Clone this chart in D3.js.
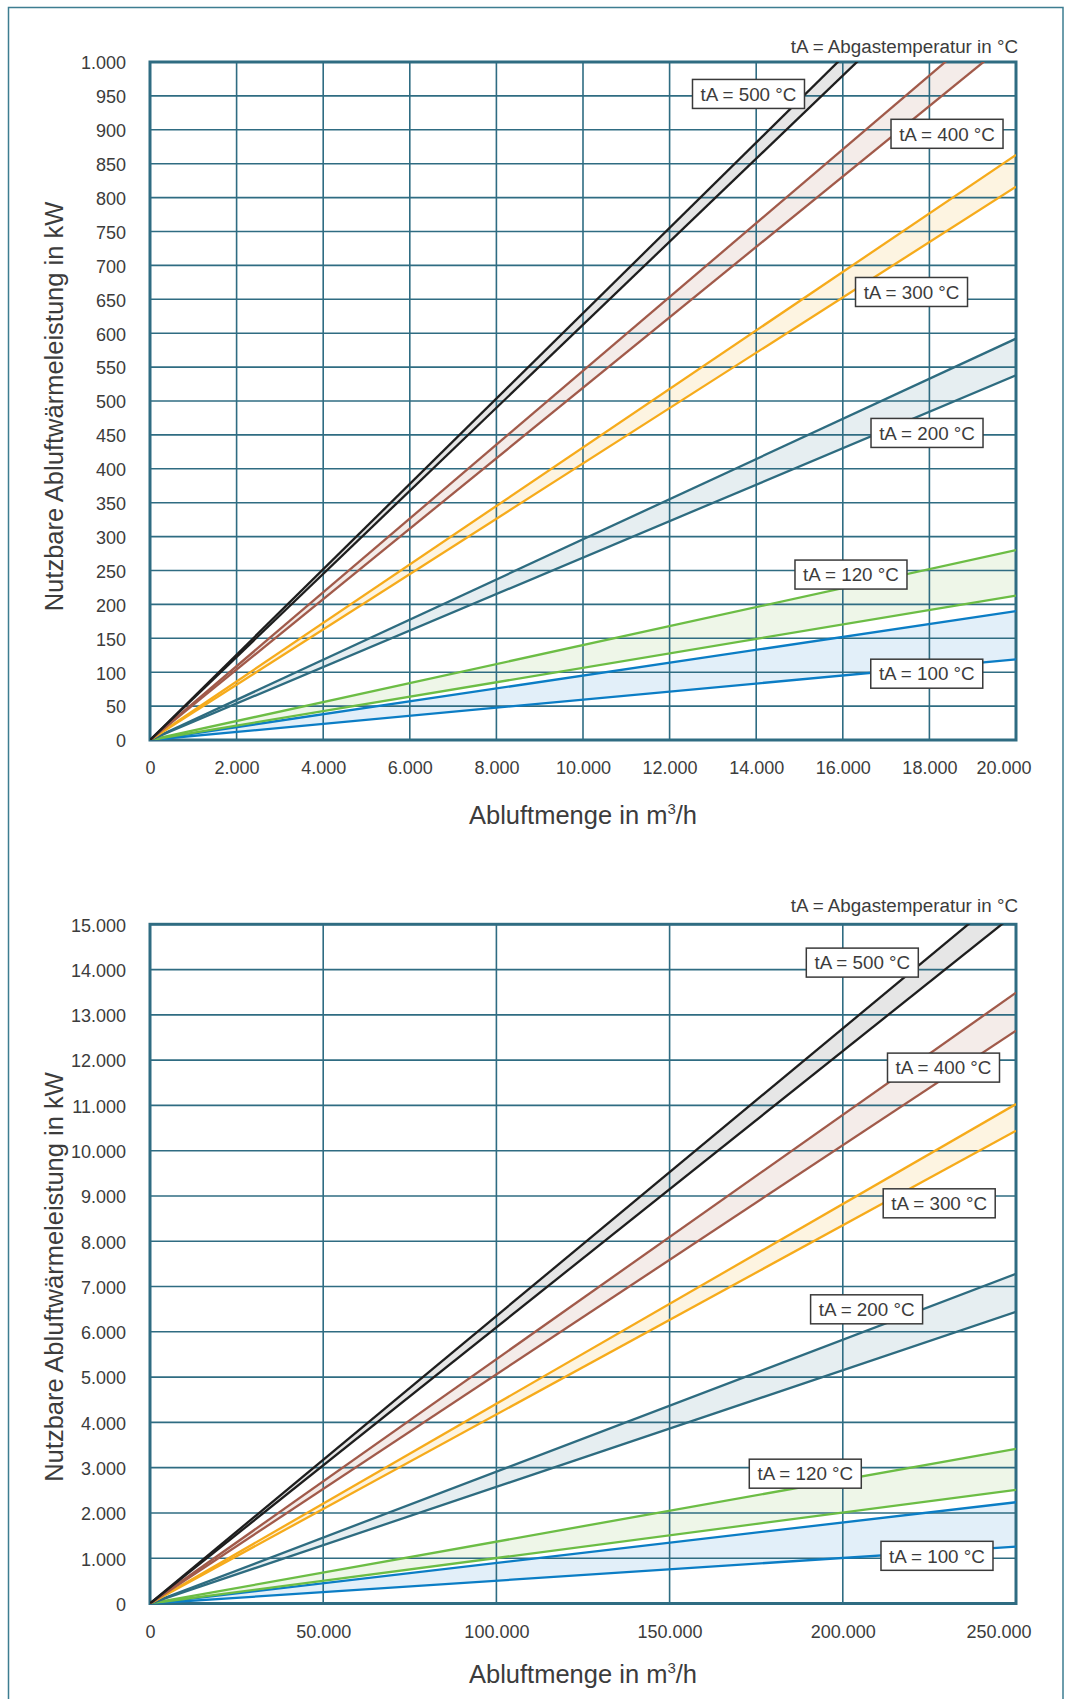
<!DOCTYPE html>
<html>
<head>
<meta charset="utf-8">
<script src="https://cdn.jsdelivr.net/npm/d3@7"></script>
<style>
  html, body { margin: 0; padding: 0; background: #ffffff; }
  svg { display: block; }
  text { font-family: "Liberation Sans", Arial, sans-serif; fill: #3c3c3c; }
</style>
</head>
<body>
<svg id="chart" width="1072" height="1699"></svg>
<script>
// ---------------- DATA ----------------
const temps = ["100", "120", "200", "300", "400", "500"];
const labelTexts = temps.map(t => "tA = " + t + " °C");

// Top chart: x 0..20.000 m³/h, y 0..1.000 kW; values read at the right edge (x = 20.000)
const topXMax = 20000;
const topYMax = 1000;
const topXTicks = [0, 2000, 4000, 6000, 8000, 10000, 12000, 14000, 16000, 18000, 20000];
const topYTicks = [0, 50, 100, 150, 200, 250, 300, 350, 400, 450, 500, 550, 600, 650, 700, 750, 800, 850, 900, 950, 1000];
const topUpper = [190, 280, 592, 863, 1089, 1259];
const topLower = [119, 213, 538, 816, 1039, 1225];

// Bottom chart: x 0..250.000 m³/h, y 0..15.000 kW; values read at the right edge (x = 250.000)
const botXMax = 250000;
const botYMax = 15000;
const botXTicks = [0, 50000, 100000, 150000, 200000, 250000];
const botYTicks = [0, 1000, 2000, 3000, 4000, 5000, 6000, 7000, 8000, 9000, 10000, 11000, 12000, 13000, 14000, 15000];
const botUpper = [2236, 3414, 7280, 11030, 13490, 15875];
const botLower = [1258, 2509, 6440, 10440, 12650, 15250];

// ---------------- STYLE / LAYOUT ----------------
const lineColors = ["#0b7dc5", "#6cbd45", "#2e6c80", "#f6ab1b", "#a15a4a", "#1e1e1e"];
const fillColors = ["#e2eff9", "#eef6e8", "#e6eef1", "#fdf4e1", "#f4ece9", "#e6e6e6"];
const gridColor = "#2f6c82";

// label box centres, in data units of each chart
const topLabelPos = [[17939, 97.8], [16189, 244], [17945, 452.9], [17587, 660.8], [18407, 894.1], [13822, 952.9]];
const botLabelPos = [[227190, 1053], [189170, 2867], [206870, 6497], [227830, 8838], [229070, 11835], [205630, 14154]];

const nf = d3.formatLocale({decimal: ",", thousands: ".", grouping: [3], currency: ["", "€"]}).format(",d");

const svg = d3.select("#chart");

// outer frame
svg.append("rect")
  .attr("x", 8.5).attr("y", 7.5)
  .attr("width", 1054.5).attr("height", 1760)
  .attr("fill", "none").attr("stroke", "#3d7d91").attr("stroke-width", 1.5);

function drawChart(cfg) {
  const g = svg.append("g");
  const x = d3.scaleLinear().domain([0, cfg.xMax]).range([cfg.left, cfg.right]);
  const y = d3.scaleLinear().domain([0, cfg.yMax]).range([cfg.bottom, cfg.top]);
  const clipId = "clip" + cfg.id;
  svg.append("clipPath").attr("id", clipId)
    .append("rect").attr("x", cfg.left).attr("y", cfg.top)
    .attr("width", cfg.right - cfg.left).attr("height", cfg.bottom - cfg.top);

  const bands = temps.map((t, i) => ({
    i,
    pts: [[0, 0, 0], [cfg.xMax, cfg.lower[i], cfg.upper[i]]]
  }));

  // fills
  const area = d3.area().x(d => x(d[0])).y0(d => y(d[1])).y1(d => y(d[2]));
  g.append("g").attr("clip-path", `url(#${clipId})`)
    .selectAll("path").data(bands).join("path")
    .attr("d", d => area(d.pts))
    .attr("fill", d => fillColors[d.i]);

  // grid
  const grid = g.append("g");
  grid.selectAll("line.v").data(cfg.xTicks).join("line")
    .attr("x1", d => x(d)).attr("x2", d => x(d))
    .attr("y1", cfg.top).attr("y2", cfg.bottom)
    .attr("stroke", gridColor).attr("stroke-width", 1.6);
  grid.selectAll("line.h").data(cfg.yTicks).join("line")
    .attr("x1", cfg.left).attr("x2", cfg.right)
    .attr("y1", d => y(d)).attr("y2", d => y(d))
    .attr("stroke", gridColor).attr("stroke-width", 1.6);
  g.append("rect")
    .attr("x", cfg.left).attr("y", cfg.top)
    .attr("width", cfg.right - cfg.left).attr("height", cfg.bottom - cfg.top)
    .attr("fill", "none").attr("stroke", gridColor).attr("stroke-width", 3);

  // lines
  const line = d3.line().x(d => x(d[0])).y(d => y(d[1]));
  const lg = g.append("g").attr("clip-path", `url(#${clipId})`);
  bands.forEach(b => {
    lg.append("path").attr("d", line(b.pts.map(p => [p[0], p[2]])))
      .attr("fill", "none").attr("stroke", lineColors[b.i]).attr("stroke-width", 2.3);
    lg.append("path").attr("d", line(b.pts.map(p => [p[0], p[1]])))
      .attr("fill", "none").attr("stroke", lineColors[b.i]).attr("stroke-width", 2.3);
  });

  // y tick labels
  const yAxis = d3.axisLeft(y).tickValues(cfg.yTicks).tickFormat(nf).tickSize(0).tickPadding(0);
  const ya = g.append("g").attr("transform", `translate(${cfg.left - 24},0)`).call(yAxis);
  ya.select(".domain").remove();
  ya.selectAll("text").attr("font-size", 18).attr("fill", "#3c3c3c")
    .attr("font-family", '"Liberation Sans", Arial, sans-serif').attr("dy", "0.38em");

  // x tick labels
  const xAxis = d3.axisBottom(x).tickValues(cfg.xTicks).tickFormat(nf).tickSize(0).tickPadding(0);
  const xa = g.append("g").attr("transform", `translate(0,${cfg.bottom + 34})`).call(xAxis);
  xa.select(".domain").remove();
  xa.selectAll("text").attr("font-size", 18).attr("fill", "#3c3c3c")
    .attr("font-family", '"Liberation Sans", Arial, sans-serif').attr("dy", "0");
  xa.selectAll(".tick").filter(d => d === cfg.xMax).select("text")
    .attr("text-anchor", "end").attr("x", 15);

  // axis titles
  const xt = g.append("text")
    .attr("x", (cfg.left + cfg.right) / 2).attr("y", cfg.xTitleY)
    .attr("text-anchor", "middle").attr("font-size", 25.5);
  xt.append("tspan").text("Abluftmenge in m");
  xt.append("tspan").attr("font-size", 15).attr("dy", -10).text("3");
  xt.append("tspan").attr("dy", 10).text("/h");

  g.append("text")
    .attr("transform", `translate(63,${cfg.yTitleY}) rotate(-90)`)
    .attr("text-anchor", "middle").attr("font-size", 25.5)
    .text("Nutzbare Abluftwärmeleistung in kW");

  g.append("text")
    .attr("x", 1018).attr("y", cfg.noteY)
    .attr("text-anchor", "end").attr("font-size", 18.8)
    .text("tA = Abgastemperatur in °C");

  // label boxes
  const bw = 112, bh = 29;
  const lab = g.append("g").selectAll("g").data(cfg.labelPos).join("g")
    .attr("transform", d => `translate(${x(d[0])},${y(d[1])})`);
  lab.append("rect")
    .attr("x", -bw / 2).attr("y", -bh / 2).attr("width", bw).attr("height", bh)
    .attr("fill", "#ffffff").attr("stroke", "#3a3a3a").attr("stroke-width", 1.5);
  lab.append("text")
    .attr("text-anchor", "middle").attr("dy", "0.36em").attr("font-size", 18.8)
    .text((d, i) => labelTexts[i]);
}

drawChart({
  id: "top", left: 150, right: 1016, top: 62, bottom: 740,
  xMax: topXMax, yMax: topYMax, xTicks: topXTicks, yTicks: topYTicks,
  upper: topUpper, lower: topLower, labelPos: topLabelPos,
  xTitleY: 824, yTitleY: 406.5, noteY: 53
});

drawChart({
  id: "bot", left: 150, right: 1016, top: 924.3, bottom: 1603.5,
  xMax: botXMax, yMax: botYMax, xTicks: botXTicks, yTicks: botYTicks,
  upper: botUpper, lower: botLower, labelPos: botLabelPos,
  xTitleY: 1683, yTitleY: 1277, noteY: 911.5
});
</script>
</body>
</html>
